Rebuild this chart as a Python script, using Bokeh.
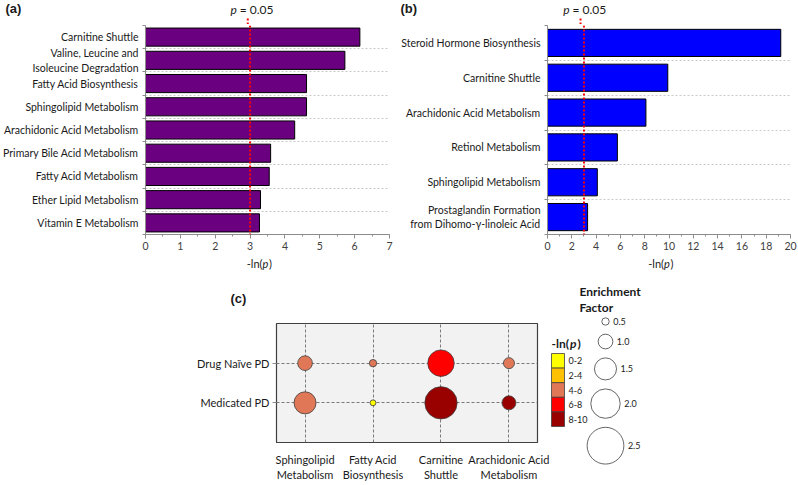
from bokeh.plotting import figure
from bokeh.layouts import column, row
from bokeh.models import (Range1d, FixedTicker, SingleIntervalTicker, Span,
                          ColumnDataSource, LinearColorMapper)
from bokeh.core.properties import value
from bokeh.embed import file_html
from bokeh.resources import INLINE

FONT = "Lato"

# ---------------- data ----------------
a_pathways = ["Carnitine Shuttle", "Valine, Leucine and\nIsoleucine Degradation",
              "Fatty Acid Biosynthesis", "Sphingolipid Metabolism",
              "Arachidonic Acid Metabolism", "Primary Bile Acid Metabolism",
              "Fatty Acid Metabolism", "Ether Lipid Metabolism", "Vitamin E Metabolism"]
a_values = [6.15, 5.72, 4.62, 4.62, 4.28, 3.59, 3.55, 3.30, 3.27]

b_pathways = ["Steroid Hormone Biosynthesis", "Carnitine Shuttle",
              "Arachidonic Acid Metabolism", "Retinol Metabolism",
              "Sphingolipid Metabolism",
              "Prostaglandin Formation\nfrom Dihomo-\u03b3-linoleic Acid"]
b_values = [19.2, 9.9, 8.1, 5.75, 4.1, 3.3]

threshold = 3.0  # -ln(0.05)

c_pathways = ["Sphingolipid\nMetabolism", "Fatty Acid\nBiosynthesis",
              "Carnitine\nShuttle", "Arachidonic Acid\nMetabolism"]
c_groups = ["Drug Na\u00efve PD", "Medicated PD"]
c_naive_lnp = [4.62, 4.62, 6.15, 4.28]
c_medicated_lnp = [4.1, 1.5, 9.9, 8.1]
c_naive_ef = [1.0, 0.5, 1.8, 0.75]
c_medicated_ef = [1.5, 0.4, 2.2, 0.95]

lnp_bins = ["0-2", "2-4", "4-6", "6-8", "8-10"]
lnp_palette = ["#FFFF00", "#FFC000", "#E07858", "#FF0000", "#990000"]
ef_legend = [0.5, 1.0, 1.5, 2.0, 2.5]

EF_PX = 14.7  # circle diameter (px) per unit of enrichment factor

HEAD_H = 24
BAR_H = 232
FOOT_H = 14
H2 = 214


def no_align(p):
    if "frame_align" in p.properties():
        p.frame_align = False


def strip(width, height, xr):
    s = figure(width=width, height=height, x_range=xr, y_range=Range1d(0, height),
               output_backend="svg", toolbar_location=None,
               x_axis_location=None, y_axis_location=None,
               min_border=0, outline_line_color=None)
    s.grid.visible = False
    no_align(s)
    return s


def bar_panel(names, vals, color, width, xmax, interval, b_left, b_right, tag, tag_dx):
    n = len(names)
    ys = list(range(n - 1, -1, -1))
    src = ColumnDataSource(dict(y=ys, v=vals))
    p = figure(width=width, height=BAR_H, x_range=Range1d(0, xmax),
               y_range=Range1d(-0.5, n - 0.5), output_backend="svg",
               toolbar_location=None, min_border_left=b_left,
               min_border_right=b_right, min_border_top=1, min_border_bottom=22,
               outline_line_color=None)
    no_align(p)
    p.hbar(y="y", left=0, right="v", height=0.78, source=src,
           fill_color=color, line_color="black", line_width=1)
    bounds = [k + 0.5 for k in range(-1, n)]
    p.yaxis.ticker = FixedTicker(ticks=ys, minor_ticks=bounds)
    p.yaxis.major_label_overrides = {y: nm for y, nm in zip(ys, names)}
    p.yaxis.major_tick_out = 0
    p.yaxis.major_tick_in = 0
    p.yaxis.minor_tick_out = 3
    p.yaxis.minor_tick_in = 0
    p.yaxis.axis_line_color = "#8c8c8c"
    p.yaxis.minor_tick_line_color = "#8c8c8c"
    p.yaxis.major_label_text_font = FONT
    p.yaxis.major_label_text_font_size = "10.5px"
    p.yaxis.major_label_text_color = "#1a1a1a"
    p.yaxis.major_label_standoff = 4
    p.xaxis.ticker = SingleIntervalTicker(interval=interval, num_minor_ticks=2)
    p.xaxis.axis_line_color = "#8c8c8c"
    p.xaxis.major_tick_line_color = "#8c8c8c"
    p.xaxis.minor_tick_line_color = "#8c8c8c"
    p.xaxis.major_tick_out = 4
    p.xaxis.major_tick_in = 0
    p.xaxis.minor_tick_out = 2
    p.xaxis.minor_tick_in = 0
    p.xaxis.major_label_text_font = FONT
    p.xaxis.major_label_text_font_size = "10.5px"
    p.xaxis.major_label_text_color = "#404040"
    p.xaxis.major_label_standoff = 3
    p.xgrid.visible = False
    p.ygrid.ticker = FixedTicker(ticks=[k + 0.5 for k in range(n - 1)])
    p.ygrid.grid_line_color = "#c8c8c8"
    p.ygrid.grid_line_dash = "2 2"
    p.add_layout(Span(location=threshold, dimension="height", line_color="red",
                      line_dash="2 2", line_width=2))

    # header / footer strips share the bar panel's x scale
    ppu = (width - b_left - b_right) / xmax
    xr = Range1d(-b_left / ppu, xmax + b_right / ppu)
    head = strip(width, HEAD_H, xr)
    lab = dict(text_font=value(FONT), text_font_size="12px", text_color="#1a1a1a",
               text_baseline="middle")
    head.text(x=[xr.start], y=[HEAD_H - 8], text=[tag], x_offset=tag_dx,
              text_font=value("Liberation Sans"), text_font_size="13px",
              text_font_style="bold", text_color="#1a1a1a", text_baseline="middle")
    head.text(x=[threshold], y=[HEAD_H - 9], text=["p"], x_offset=-11,
              text_align="right", text_font_style="italic", **lab)
    head.text(x=[threshold], y=[HEAD_H - 9], text=["= 0.05"], x_offset=-8,
              text_align="left", **lab)
    # the threshold line continues up towards its caption
    head.segment(x0=[threshold], y0=[0], x1=[threshold], y1=[HEAD_H - 17],
                 line_color="red", line_dash="2 2", line_width=2)
    foot = strip(width, FOOT_H, xr)
    mid = xmax / 2
    lab2 = dict(lab, text_font_size="11px")
    foot.text(x=[mid], y=[7], text=["-ln("], x_offset=-3, text_align="right", **lab2)
    foot.text(x=[mid], y=[7], text=["p"], x_offset=-3, text_align="left",
              text_font_style="italic", **lab2)
    foot.text(x=[mid], y=[7], text=[")"], x_offset=3.5, text_align="left", **lab2)
    return column(head, p, foot)


fa = bar_panel(a_pathways, a_values, "#6A0080", 398, 7, 1, 141, 9, "(a)", 5)
fb = bar_panel(b_pathways, b_values, "#0000FF", 399, 20, 2, 145, 7, "(b)", 2)

# ---------------- panel (c) bubble chart ----------------
xs = list(range(1, len(c_pathways) + 1))
gy = {c_groups[0]: 2, c_groups[1]: 1}
bx, by, blnp, bsize = [], [], [], []
for g, lnps, efs in ((c_groups[0], c_naive_lnp, c_naive_ef),
                     (c_groups[1], c_medicated_lnp, c_medicated_ef)):
    for x, l, e in zip(xs, lnps, efs):
        bx.append(x)
        by.append(gy[g])
        blnp.append(l)
        bsize.append(e * EF_PX)
bsrc = ColumnDataSource(dict(x=bx, y=by, lnp=blnp, size=bsize))
mapper = LinearColorMapper(palette=lnp_palette, low=0, high=10)

CW = 550
fc = figure(width=CW, height=H2, x_range=Range1d(0.58, 4.42), y_range=Range1d(0, 3),
            output_backend="svg", toolbar_location=None,
            min_border_left=276, min_border_right=CW - 537, min_border_top=53,
            min_border_bottom=37, background_fill_color="#f2f2f2",
            outline_line_color="#404040", outline_line_width=1.2,
            title="(c)")
no_align(fc)
fc.title.text_font = "Liberation Sans"
fc.title.text_font_size = "13px"
fc.title.text_font_style = "bold"
fc.title.text_color = "#1a1a1a"
fc.title.align = "left"
fc.title.offset = -46
fc.title.standoff = 36
fc.xgrid.ticker = FixedTicker(ticks=xs)
fc.ygrid.ticker = FixedTicker(ticks=[1, 2])
fc.grid.grid_line_color = "#7a7a7a"
fc.grid.grid_line_dash = "3 2"
fc.scatter("x", "y", size="size", source=bsrc,
           fill_color={"field": "lnp", "transform": mapper},
           line_color="#404040", line_width=0.8)
fc.xaxis.ticker = FixedTicker(ticks=xs)
fc.xaxis.major_label_overrides = {x: nm for x, nm in zip(xs, c_pathways)}
fc.xaxis.axis_line_color = None
fc.xaxis.major_tick_line_color = None
fc.xaxis.major_label_standoff = 4
fc.yaxis.ticker = FixedTicker(ticks=[gy[g] for g in c_groups])
fc.yaxis.major_label_overrides = {gy[g]: g for g in c_groups}
fc.yaxis.axis_line_color = None
fc.yaxis.major_tick_out = 4
fc.yaxis.major_tick_in = 0
fc.yaxis.major_tick_line_color = "#8c8c8c"
fc.yaxis.major_label_standoff = 3
for ax in (fc.xaxis, fc.yaxis):
    ax.major_label_text_font = FONT
    ax.major_label_text_font_size = "11px"
    ax.major_label_text_color = "#1a1a1a"

# ---------------- legends ----------------
LW = 797 - CW
fl = figure(width=LW, height=H2, x_range=Range1d(0, LW), y_range=Range1d(H2, 0),
            output_backend="svg", toolbar_location=None,
            x_axis_location=None, y_axis_location=None,
            min_border=0, outline_line_color=None)
fl.grid.visible = False
no_align(fl)

# colour legend
cell = 14.6
cy = [83 + cell / 2 + i * cell for i in range(len(lnp_bins))]
fl.rect(x=[7.5] * len(lnp_bins), y=cy, width=13, height=cell,
        fill_color=lnp_palette, line_color="#404040", line_width=0.8)
fl.text(x=[18] * len(lnp_bins), y=cy, text=lnp_bins, text_font=value(FONT),
        text_font_size="9px", text_baseline="middle", text_color="#1a1a1a")
tt = dict(text_font=value(FONT), text_font_size="12px", text_font_style="bold",
          text_baseline="middle", text_color="#1a1a1a")
fl.text(x=[1], y=[73], text=["-ln("], **tt)
fl.text(x=[19.5], y=[73], text=["p"], **{**tt, "text_font_style": "bold italic"})
fl.text(x=[27], y=[73], text=[")"], **tt)

# enrichment factor legend
fl.text(x=[29, 29], y=[21, 37], text=["Enrichment", "Factor"], **tt)
ey = []
prev_y, prev_r = None, None
for e in ef_legend:
    r = e * EF_PX / 2
    yy = 51 if prev_y is None else prev_y + prev_r + r + 9
    ey.append(yy)
    prev_y, prev_r = yy, r
esz = [e * EF_PX for e in ef_legend]
fl.scatter(x=[55] * len(ef_legend), y=ey, size=esz, fill_color="white",
           line_color="#404040", line_width=0.8)
fl.text(x=[55 + s / 2 + 4 for s in esz], y=ey, text=[f"{e:.1f}" for e in ef_legend],
        text_font=value(FONT), text_font_size="9px", text_baseline="middle",
        text_color="#1a1a1a")

layout = column(row(fa, fb), row(fc, fl))
open("out.html", "w").write(file_html(layout, INLINE))
